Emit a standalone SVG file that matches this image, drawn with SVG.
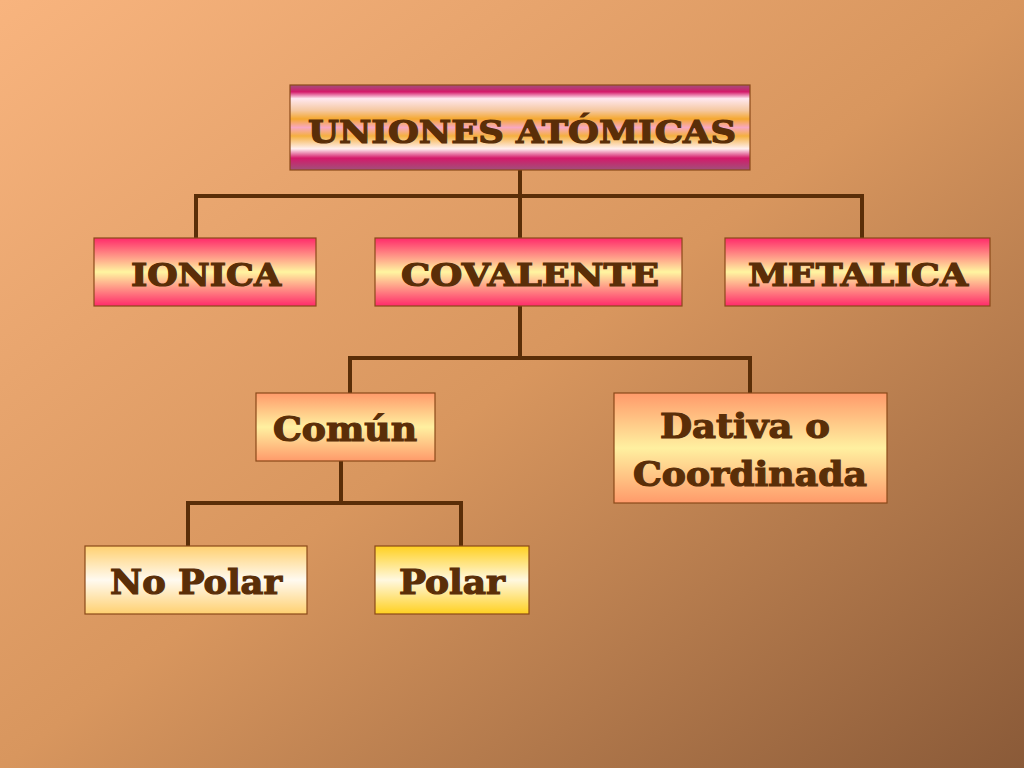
<svg xmlns="http://www.w3.org/2000/svg" width="1024" height="768" viewBox="0 0 1024 768">
<defs>
<linearGradient id="bg" x1="0" y1="0" x2="1" y2="1"><stop offset="0" stop-color="#f8b47e"/><stop offset="0.5" stop-color="#d8965e"/><stop offset="1" stop-color="#8a5a38"/></linearGradient>
<linearGradient id="stripe" x1="0" y1="0" x2="0" y2="1">
<stop offset="0" stop-color="#a0507a"/><stop offset="0.08" stop-color="#d41a6a"/><stop offset="0.16" stop-color="#ffe8f0"/><stop offset="0.3" stop-color="#f5c8a0"/><stop offset="0.4" stop-color="#f5a830"/><stop offset="0.5" stop-color="#f8a8c0"/><stop offset="0.6" stop-color="#f5b040"/><stop offset="0.75" stop-color="#fff0f0"/><stop offset="0.86" stop-color="#d41a6a"/><stop offset="1" stop-color="#a0507a"/></linearGradient>
<linearGradient id="pink" x1="0" y1="0" x2="0" y2="1"><stop offset="0" stop-color="#ff2a6a"/><stop offset="0.5" stop-color="#fff5a0"/><stop offset="1" stop-color="#ff2a6a"/></linearGradient>
<linearGradient id="peach" x1="0" y1="0" x2="0" y2="1"><stop offset="0" stop-color="#ff9a6a"/><stop offset="0.5" stop-color="#fff0a0"/><stop offset="1" stop-color="#ff9a6a"/></linearGradient>
<linearGradient id="cream" x1="0" y1="0" x2="0" y2="1"><stop offset="0" stop-color="#ffd070"/><stop offset="0.5" stop-color="#fffaf0"/><stop offset="1" stop-color="#ffd070"/></linearGradient>
<linearGradient id="gold" x1="0" y1="0" x2="0" y2="1"><stop offset="0" stop-color="#ffd020"/><stop offset="0.5" stop-color="#fff8e0"/><stop offset="1" stop-color="#ffd020"/></linearGradient>
</defs>
<style>
.t{font-family:"DejaVu Serif","Liberation Serif",serif;font-weight:bold;fill:#5a2e08;stroke:#5a2e08;stroke-width:1.2;text-anchor:middle}
.big{font-size:32px}
.sm{font-size:33px}
.b{stroke:#8a4a1a;stroke-width:1.2}
.c{stroke:#5a2e08;stroke-width:4;fill:none}
</style>
<rect width="1024" height="768" fill="url(#bg)"/>
<g id="connectors">
<path class="c" d="M520 170V238M196 238V196H862V238"/>
<path class="c" d="M520 306V358M350 393V358H750V393"/>
<path class="c" d="M341 461V503M188 546V503H461V546"/>
</g>
<g id="n0"><rect class="b" x="290" y="85" width="460" height="85" fill="url(#stripe)"/><text class="t big" x="522" y="143" textLength="428" lengthAdjust="spacingAndGlyphs">UNIONES ATÓMICAS</text></g>
<g id="n1"><rect class="b" x="94" y="238" width="222" height="68" fill="url(#pink)"/><text class="t big" x="206" y="286" textLength="150" lengthAdjust="spacingAndGlyphs">IONICA</text></g>
<g id="n2"><rect class="b" x="375" y="238" width="307" height="68" fill="url(#pink)"/><text class="t big" x="530" y="286" textLength="258" lengthAdjust="spacingAndGlyphs">COVALENTE</text></g>
<g id="n3"><rect class="b" x="725" y="238" width="265" height="68" fill="url(#pink)"/><text class="t big" x="858" y="286" textLength="220" lengthAdjust="spacingAndGlyphs">METALICA</text></g>
<g id="n4"><rect class="b" x="256" y="393" width="179" height="68" fill="url(#peach)"/><text class="t sm" x="345" y="441" textLength="144" lengthAdjust="spacingAndGlyphs">Común</text></g>
<g id="n5"><rect class="b" x="614" y="393" width="273" height="110" fill="url(#peach)"/><text class="t sm" x="745" y="438" textLength="170" lengthAdjust="spacingAndGlyphs">Dativa o</text><text class="t sm" x="750" y="486" textLength="234" lengthAdjust="spacingAndGlyphs">Coordinada</text></g>
<g id="n6"><rect class="b" x="85" y="546" width="222" height="68" fill="url(#cream)"/><text class="t sm" x="196" y="594" textLength="172" lengthAdjust="spacingAndGlyphs">No Polar</text></g>
<g id="n7"><rect class="b" x="375" y="546" width="154" height="68" fill="url(#gold)"/><text class="t sm" x="452" y="594" textLength="106" lengthAdjust="spacingAndGlyphs">Polar</text></g>
</svg>
